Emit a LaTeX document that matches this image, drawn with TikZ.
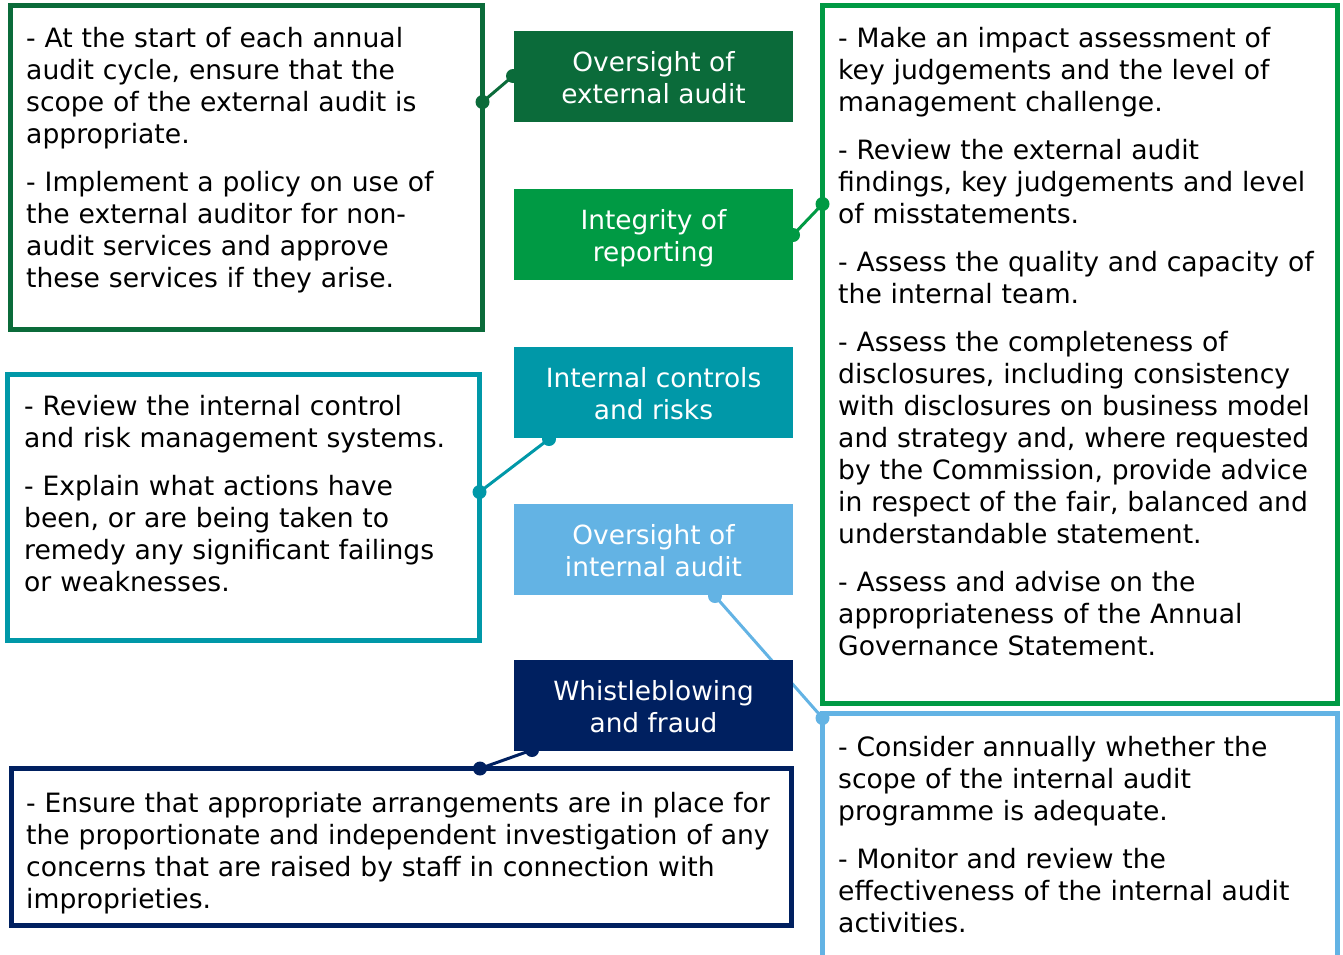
\documentclass[tikz,border=0pt]{standalone}
\usepackage{fontspec}
\setmainfont{DejaVu Sans}
\definecolor{cdg}{HTML}{0B6B3A}
\definecolor{cgr}{HTML}{009A44}
\definecolor{ctl}{HTML}{0098A8}
\definecolor{clb}{HTML}{63B3E4}
\definecolor{cnv}{HTML}{002060}
\newcommand{\bodyfnt}{\fontsize{26.6}{32}\selectfont}
\newcommand{\headfnt}{\fontsize{26.4}{32}\selectfont}
\begin{document}
\begin{tikzpicture}[x=1pt,y=-1pt,
  obox/.style={draw=#1, line width=5pt, inner sep=0pt, outer sep=0pt, fill=white},
  head/.style={fill=#1, minimum width=279pt, minimum height=91pt, inner sep=0pt, outer sep=0pt},
  htxt/.style={text=white, inner sep=0pt, align=center, font=\headfnt},
  txt/.style={anchor=base west, inner sep=0pt, align=left, text width=#1, font=\bodyfnt},
  link/.style={line width=3pt, draw=#1},
  dot/.style={circle, fill=#1, inner sep=0pt, minimum size=14pt}]
\useasboundingbox (0,0) rectangle (1343,954);
\clip (0,0) rectangle (1343,954);
% outline boxes
\node[obox=cdg, minimum width=472pt, minimum height=324pt] (b1) at (246.5,167.5) {};
\node[obox=cgr, minimum width=515pt, minimum height=698pt] (b2) at (1080,354.5) {};
\node[obox=ctl, minimum width=472pt, minimum height=266pt] (b3) at (243.5,507.5) {};
\node[obox=clb, minimum width=515pt, minimum height=290pt] (b4) at (1080,858.5) {};
\node[obox=cnv, minimum width=780pt, minimum height=156.5pt] (b5) at (401.5,846.75) {};
% anchor points of connectors
\coordinate (p1a) at (b1.east |- 0,102);
\coordinate (p1b) at (513,76);
\coordinate (p2a) at (793,235);
\coordinate (p2b) at (b2.west |- 0,204);
\coordinate (p3a) at (549,439);
\coordinate (p3b) at (b3.east |- 0,492);
\coordinate (p4a) at (715,596);
\coordinate (p4b) at (b4.west |- 0,718);
\coordinate (p5a) at (532,750);
\coordinate (p5b) at (480,0 |- b5.north);
% connectors
\draw[link=cdg] (p1a) -- (p1b);
\draw[link=cgr] (p2a) -- (p2b);
\draw[link=ctl] (p3a) -- (p3b);
\draw[link=clb] (p4a) -- (p4b);
\draw[link=cnv] (p5a) -- (p5b);
\node[dot=cdg] (d1a) at (p1a) {};
\node[dot=cdg] (d1b) at (p1b) {};
\node[dot=cgr] (d2a) at (p2a) {};
\node[dot=cgr] (d2b) at (p2b) {};
\node[dot=ctl] (d3a) at (p3a) {};
\node[dot=ctl] (d3b) at (p3b) {};
\node[dot=clb] (d4a) at (p4a) {};
\node[dot=clb] (d4b) at (p4b) {};
\node[dot=cnv] (d5a) at (p5a) {};
\node[dot=cnv] (d5b) at (p5b) {};
% filled headings
\node[head=cdg] (h1) at (653.5,76.5) {};
\node[head=cgr] (h2) at (653.5,234) {};
\node[head=ctl] (h3) at (653.5,392) {};
\node[head=clb] (h4) at (653.5,549) {};
\node[head=cnv] (h5) at (653.5,705) {};
\node[htxt] (l1) at ([yshift=-4pt]h1.center) {Oversight of\\external audit\vphantom{g}};
\node[htxt] (l2) at ([yshift=-4pt]h2.center) {Integrity of\\reporting\vphantom{g}};
\node[htxt] (l3) at ([yshift=-4pt]h3.center) {Internal controls\\and risks\vphantom{g}};
\node[htxt] (l4) at ([yshift=-4pt]h4.center) {Oversight of\\internal audit\vphantom{g}};
\node[htxt] (l5) at ([yshift=-4pt]h5.center) {Whistleblowing\\and fraud\vphantom{g}};
% texts
\node[txt=455pt] (t1) at (26,47) {- At the start of each annual\\
audit cycle, ensure that the\\
scope of the external audit is\\
appropriate.\\[16pt]
- Implement a policy on use of\\
the external auditor for non-\\
audit services and approve\\
these services if they arise.};
\node[txt=495pt] (t2) at (838,47) {- Make an impact assessment of\\
key judgements and the level of\\
management challenge.\\[16pt]
- Review the external audit\\
findings, key judgements and level\\
of misstatements.\\[16pt]
- Assess the quality and capacity of\\
the internal team.\\[16pt]
- Assess the completeness of\\
disclosures, including consistency\\
with disclosures on business model\\
and strategy and, where requested\\
by the Commission, provide advice\\
in respect of the fair, balanced and\\
understandable statement.\\[16pt]
- Assess and advise on the\\
appropriateness of the Annual\\
Governance Statement.};
\node[txt=455pt] (t3) at (24,415) {- Review the internal control\\
and risk management systems.\\[16pt]
- Explain what actions have\\
been, or are being taken to\\
remedy any significant failings\\
or weaknesses.};
\node[txt=495pt] (t4) at (838,756) {- Consider annually whether the\\
scope of the internal audit\\
programme is adequate.\\[16pt]
- Monitor and review the\\
effectiveness of the internal audit\\
activities.};
\node[txt=765pt] (t5) at (26,812) {- Ensure that appropriate arrangements are in place for\\
the proportionate and independent investigation of any\\
concerns that are raised by staff in connection with\\
improprieties.};
\end{tikzpicture}
\end{document}
